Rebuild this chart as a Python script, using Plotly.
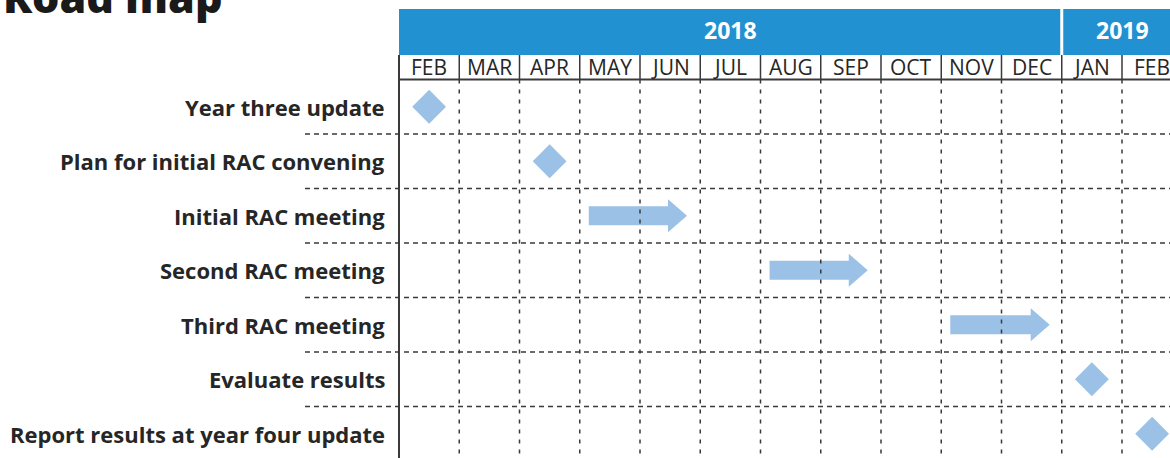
import plotly.graph_objects as go

# ---------------- data ----------------
months = ["FEB", "MAR", "APR", "MAY", "JUN", "JUL", "AUG", "SEP", "OCT", "NOV", "DEC", "JAN", "FEB"]
years = ["2018", "2019"]
year_span = [(0, 11), (11, 13)]          # month-index spans of each year

tasks = ["Year three update", "Plan for initial RAC convening", "Initial RAC meeting",
         "Second RAC meeting", "Third RAC meeting", "Evaluate results",
         "Report results at year four update"]

# milestones (diamonds): task row, month position
milestone_rows = [0, 1, 5, 6]
milestone_pos = [0.5, 2.5, 11.5, 12.5]

# activities (arrows): task row, start / end month position
arrow_rows = [2, 3, 4]
arrow_start = [3.15, 6.15, 9.15]
arrow_end = [4.78, 7.78, 10.8]

# ---------------- style ----------------
HEADER_BLUE = "#2291d1"
SHAPE_BLUE = "#9bc1e6"
GRID = "#3a3a3a"
TEXT = "#262626"
FONT = "Open Sans"

W, H = 1170, 458
ML, MT = 305, 9
COL = 60.25          # px per month
ROW = 54.5           # px per row
X0 = -(399 - ML) / COL
X1 = X0 + (W - ML) / COL
Y0 = -(79.5 - MT) / ROW
Y1 = Y0 + (H - MT) / ROW
HEADER_SPLIT = -(79.5 - 55) / ROW
n_rows = len(tasks)
n_cols = len(months)

fig = go.Figure()
shapes = []
annotations = []

# header bars
for yr, (a, b) in zip(years, year_span):
    shapes.append(dict(type="rect", xref="x", yref="y", x0=a, x1=b, y0=Y0, y1=HEADER_SPLIT,
                       fillcolor=HEADER_BLUE, line=dict(width=0), layer="below"))
    annotations.append(dict(x=(a + b) / 2, y=(Y0 + HEADER_SPLIT) / 2 - 0.03, xref="x", yref="y",
                            text="<b>%s</b>" % yr, showarrow=False,
                            font=dict(family=FONT, size=23, color="white")))
# white gap between year bars
for a, b in year_span[1:]:
    shapes.append(dict(type="line", xref="x", yref="y", x0=a, x1=a, y0=Y0, y1=HEADER_SPLIT,
                       line=dict(color="white", width=3)))

# month labels and solid separators
for i, m in enumerate(months):
    annotations.append(dict(x=i + 0.5, y=HEADER_SPLIT / 2, xref="x", yref="y", text=m,
                            showarrow=False, font=dict(family=FONT, size=21, color=TEXT)))
for i in range(1, n_cols + 1):
    shapes.append(dict(type="line", xref="x", yref="y", x0=i, x1=i, y0=HEADER_SPLIT, y1=0,
                       line=dict(color=GRID, width=1.5)))
# solid line under month row and left border
shapes.append(dict(type="line", xref="x", yref="y", x0=0, x1=X1, y0=0, y1=0,
                   line=dict(color=GRID, width=2)))
shapes.append(dict(type="line", xref="x", yref="y", x0=0, x1=0, y0=HEADER_SPLIT, y1=Y1,
                   line=dict(color=GRID, width=2)))

# dashed grid
for i in range(1, n_cols + 1):
    shapes.append(dict(type="line", xref="x", yref="y", x0=i, x1=i, y0=0, y1=Y1,
                       line=dict(color=GRID, width=1.5, dash="4px,6px")))
for r in range(1, n_rows):
    shapes.append(dict(type="line", xref="x", yref="y", x0=X0, x1=X1, y0=r, y1=r,
                       line=dict(color=GRID, width=1.5, dash="5px,4px")))

# row labels
for r, t in enumerate(tasks):
    annotations.append(dict(x=-0.2, y=r + 0.5, xref="x", yref="y", text="<b>%s</b>" % t,
                            showarrow=False, xanchor="right",
                            font=dict(family=FONT, size=22, color=TEXT)))

# title
annotations.append(dict(x=-ML / (W - ML) + 0.001, y=1.027, xref="paper", yref="paper",
                        text="Road map", showarrow=False, xanchor="left", yanchor="middle",
                        font=dict(family="Open Sans", size=43, color="#1a1a1a", weight=800)))

# arrows
BODY = 9.5 / ROW
HEAD = 16.5 / ROW
HEAD_LEN = 19 / COL
for r, s, e in zip(arrow_rows, arrow_start, arrow_end):
    yc = r + 0.5
    hb = e - HEAD_LEN
    xs = [s, hb, hb, e, hb, hb, s, s]
    ys = [yc - BODY, yc - BODY, yc - HEAD, yc, yc + HEAD, yc + BODY, yc + BODY, yc - BODY]
    fig.add_trace(go.Scatter(x=xs, y=ys, mode="lines", fill="toself", fillcolor=SHAPE_BLUE,
                             line=dict(width=0, color=SHAPE_BLUE), hoverinfo="skip",
                             showlegend=False))

# diamonds
fig.add_trace(go.Scatter(x=milestone_pos, y=[r + 0.5 for r in milestone_rows], mode="markers",
                         marker=dict(symbol="diamond", size=26, color=SHAPE_BLUE,
                                     line=dict(width=0)),
                         showlegend=False, hoverinfo="skip", cliponaxis=False))

fig.update_layout(
    width=W, height=H,
    margin=dict(l=ML, r=0, t=MT, b=0, pad=0),
    paper_bgcolor="white", plot_bgcolor="white",
    xaxis=dict(range=[X0, X1], visible=False, fixedrange=True),
    yaxis=dict(range=[Y1, Y0], visible=False, fixedrange=True),
    shapes=shapes, annotations=annotations, showlegend=False,
)

fig.write_html("out.html", config={"displayModeBar": False},
               post_script="document.body.style.margin='0';document.body.style.overflow='hidden';")
